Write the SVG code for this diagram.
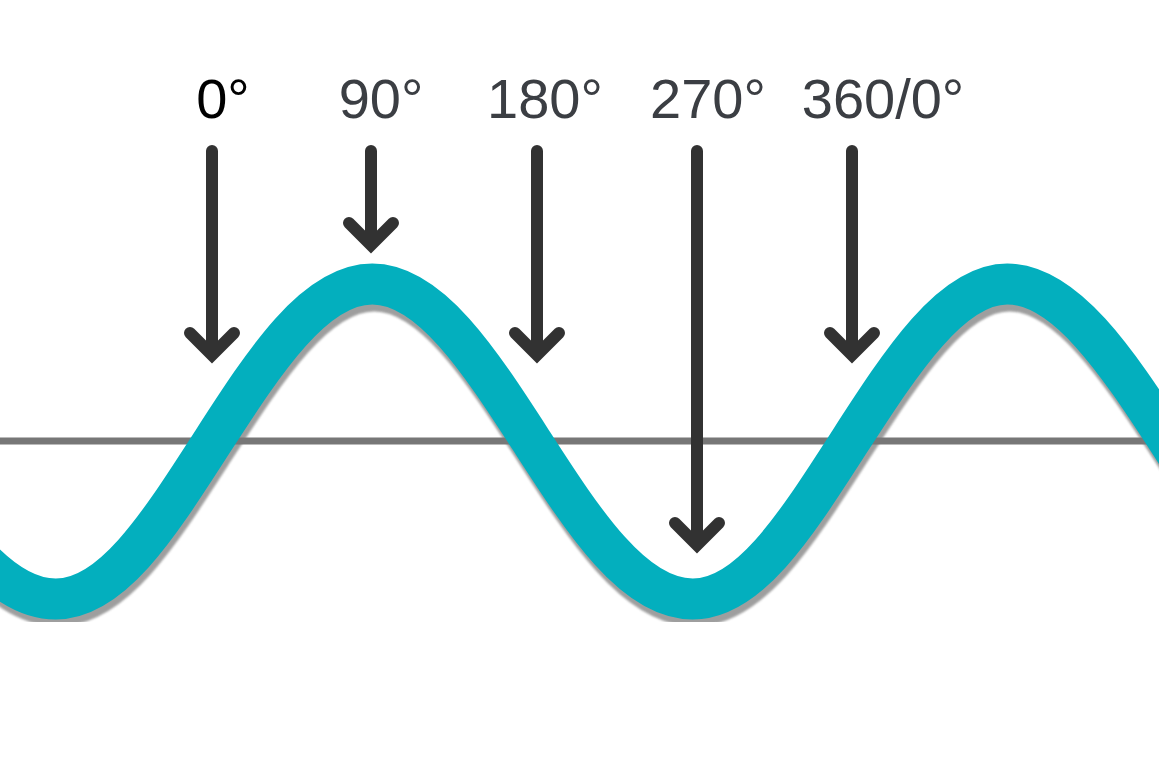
<svg xmlns="http://www.w3.org/2000/svg" width="1159" height="768" viewBox="0 0 1159 768">
<style>
.lbl{font-family:"Liberation Sans",Arial,sans-serif;font-size:56px;text-anchor:middle;fill:#3b3e43}
.arr{fill:none;stroke:#323232;stroke-width:12;stroke-linecap:round;stroke-linejoin:miter}
</style>
<defs>
<path id="wave" d="M-105.5 441 C-53.56 521.4 -3.89 599 55.75 599 C113.39 599 161.06 521.4 213 441 C264.94 360.6 314.61 284 372.25 284 C429.89 284 479.56 360.6 531.5 441 C583.44 521.4 633.11 599 692.75 599 C750.39 599 798.06 521.4 850 441 C901.94 360.6 951.61 284 1007.25 284 C1064.89 284 1116.56 360.6 1168.5 441 C1220.44 521.4 1270.11 598 1327.75 598"/>
<filter id="blur" x="-5%" y="-5%" width="110%" height="110%"><feGaussianBlur stdDeviation="1.2"/></filter>
</defs>
<rect width="1159" height="768" fill="#ffffff"/>
<g id="wave-shadow"><use href="#wave" transform="translate(2,7)" fill="none" stroke="#8e8e8e" stroke-width="41" opacity="0.85" filter="url(#blur)"/></g>
<g id="axis"><line x1="0" y1="441" x2="1159" y2="441" stroke="#777777" stroke-width="7"/></g>
<g id="sine"><use href="#wave" fill="none" stroke="#03afbe" stroke-width="41"/></g>
<g id="connectors">
<path class="arr" d="M212 151 V355 M190 333 L212 355 L234 333"/>
<path class="arr" d="M371 151 V245 M349 223 L371 245 L393 223"/>
<path class="arr" d="M537 151 V355 M515 333 L537 355 L559 333"/>
<path class="arr" d="M697 151 V545 M675 523 L697 545 L719 523"/>
<path class="arr" d="M852 151 V355 M830 333 L852 355 L874 333"/>
</g>
<g id="label-0"><text class="lbl" x="223" y="118" style="fill:#000000">0°</text></g>
<g id="label-90"><text class="lbl" x="381" y="118">90°</text></g>
<g id="label-180"><text class="lbl" x="545" y="118">180°</text></g>
<g id="label-270"><text class="lbl" x="708" y="118">270°</text></g>
<g id="label-360"><text class="lbl" x="883" y="118">360/0°</text></g>
</svg>
